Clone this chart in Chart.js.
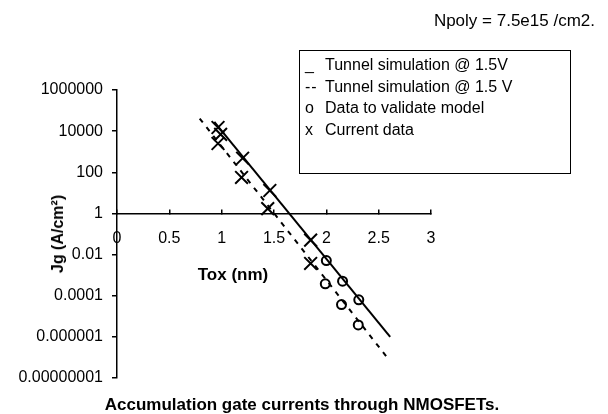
<!DOCTYPE html>
<html>
<head>
<meta charset="utf-8">
<script src="https://cdn.jsdelivr.net/npm/chart.js@4"></script>
<style>
    html, body { margin: 0; padding: 0; background: #fff; }
    #wrap { position: relative; width: 608px; height: 414px; font-family: 'Liberation Sans', Arial, sans-serif; color: #000; }
    #chart { position: absolute; left: 0; top: 0; }
    .txt { position: absolute; white-space: nowrap; line-height: 1; }
    .center { transform: translate(-50%, -50%); }
    .bold { font-weight: bold; }
    #legend { position: absolute; left: 299px; top: 50px; width: 272px; height: 124px; border: 1.5px solid #000; box-sizing: border-box; }
    #legend .row { position: absolute; left: 0; width: 100%; font-size: 16px; line-height: 1; white-space: nowrap; }
    #legend .sym { position: absolute; left: 5px; letter-spacing: 1px; white-space: pre; }
    #legend .name { position: absolute; left: 25px; white-space: nowrap; }
</style>
</head>
<body>
<div id="wrap">
    <canvas id="chart" width="608" height="414"></canvas>
    <div class="txt" id="npoly" style="right: 13px; top: 12px; font-size: 17px;"></div>
    <div id="legend"></div>
    <div class="txt center bold" id="xTitle" style="left: 233px; top: 274px; font-size: 17px;"></div>
    <div class="txt center bold" id="yTitle" style="left: 58px; top: 234px; font-size: 16px; transform: translate(-50%, -50%) rotate(-90deg);"></div>
    <div class="txt center bold" id="caption" style="left: 302px; top: 404px; font-size: 17px;"></div>
</div>
<script>
// Axis ticks
const X_TICKS = [0, 0.5, 1, 1.5, 2, 2.5, 3];
const X_TICK_LABELS = ['0', '0.5', '1', '1.5', '2', '2.5', '3'];
const Y_TICKS = [1e-8, 1e-6, 1e-4, 1e-2, 1, 100, 1e4, 1e6];
const Y_TICK_LABELS = ['0.00000001', '0.000001', '0.0001', '0.01', '1', '100', '10000', '1000000'];

// Simulation curves (end points, straight on a log axis)
const simSolidTox = [0.93, 2.61];
const simSolidJg = [2.8e4, 1e-6];
const simDashedTox = [0.79, 2.59];
const simDashedJg = [4.1e4, 8.7e-8];

// Measured data
const validateTox = [2.0, 1.99, 2.155, 2.145, 2.31, 2.305];
const validateJg = [5.1e-3, 3.8e-4, 5.1e-4, 3.7e-5, 6.3e-5, 3.8e-6];
const currentTox = [0.965, 0.99, 0.965, 1.2, 1.19, 1.46, 1.44, 1.85, 1.85];
const currentJg = [1.5e4, 7e3, 2.5e3, 480, 56, 13, 1.7, 0.05, 0.0037];

// Texts
const legendSymbols = ['_', '--', 'o', 'x'];
const legendNames = ['Tunnel simulation @ 1.5V', 'Tunnel simulation @ 1.5 V', 'Data to validate model', 'Current data'];
const xTitle = 'Tox (nm)';
const yTitle = 'Jg (A/cm²)';
const caption = 'Accumulation gate currents through NMOSFETs.';
const npolyNote = 'Npoly = 7.5e15 /cm2.';

const FONT = "'Liberation Sans', Arial, sans-serif";

function toPoints(xs, ys) {
    return xs.map((x, i) => ({ x: x, y: ys[i] }));
}

// Fill the text overlays
document.getElementById('npoly').textContent = npolyNote;
document.getElementById('xTitle').textContent = xTitle;
document.getElementById('yTitle').textContent = yTitle;
document.getElementById('caption').textContent = caption;

const legendEl = document.getElementById('legend');
const rowTops = [6, 28, 49, 71];
legendSymbols.forEach((sym, i) => {
    const row = document.createElement('div');
    row.className = 'row';
    row.style.top = rowTops[i] + 'px';
    row.innerHTML = '<span class="sym"></span><span class="name"></span>';
    row.querySelector('.sym').textContent = sym;
    row.querySelector('.name').textContent = legendNames[i];
    legendEl.appendChild(row);
});

const ctx = document.getElementById('chart').getContext('2d');
new Chart(ctx, {
    type: 'scatter',
    data: {
        datasets: [
            {
                label: legendNames[0],
                data: toPoints(simSolidTox, simSolidJg),
                showLine: true,
                borderColor: '#000',
                borderWidth: 2,
                pointRadius: 0
            },
            {
                label: legendNames[1],
                data: toPoints(simDashedTox, simDashedJg),
                showLine: true,
                borderColor: '#000',
                borderWidth: 2,
                borderDash: [5, 6],
                pointRadius: 0
            },
            {
                label: legendNames[2],
                data: toPoints(validateTox, validateJg),
                pointStyle: 'circle',
                pointRadius: 4.5,
                borderColor: '#000',
                backgroundColor: 'rgba(0,0,0,0)',
                borderWidth: 2
            },
            {
                label: legendNames[3],
                data: toPoints(currentTox, currentJg),
                pointStyle: 'crossRot',
                pointRadius: 9,
                borderColor: '#000',
                borderWidth: 2
            }
        ]
    },
    options: {
        responsive: false,
        animation: false,
        layout: {
            padding: { left: 0, top: 90, right: 177, bottom: 36 }
        },
        plugins: {
            legend: { display: false },
            tooltip: { enabled: false }
        },
        scales: {
            x: {
                type: 'linear',
                min: 0,
                max: 3,
                position: { y: 1 },
                afterBuildTicks: scale => {
                    scale.ticks = X_TICKS.map(v => ({ value: v }));
                },
                ticks: {
                    autoSkip: false,
                    maxRotation: 0,
                    padding: 21,
                    color: '#000',
                    font: { family: FONT, size: 16 },
                    callback: (value, index) => X_TICK_LABELS[index]
                },
                grid: {
                    drawOnChartArea: false,
                    tickLength: -5,
                    color: '#000',
                    lineWidth: 1.5
                },
                border: { color: '#000', width: 1.5 }
            },
            y: {
                type: 'logarithmic',
                min: 1e-8,
                max: 1e6,
                position: 'left',
                afterBuildTicks: scale => {
                    scale.ticks = Y_TICKS.map(v => ({ value: v }));
                },
                afterFit: scale => {
                    scale.width = 117;
                },
                ticks: {
                    autoSkip: false,
                    padding: 9,
                    color: '#000',
                    font: { family: FONT, size: 16 },
                    callback: (value, index) => Y_TICK_LABELS[index]
                },
                grid: {
                    drawOnChartArea: false,
                    tickLength: 5,
                    color: '#000',
                    lineWidth: 1.5
                },
                border: { color: '#000', width: 1.5 }
            }
        }
    }
});
</script>
</body>
</html>
